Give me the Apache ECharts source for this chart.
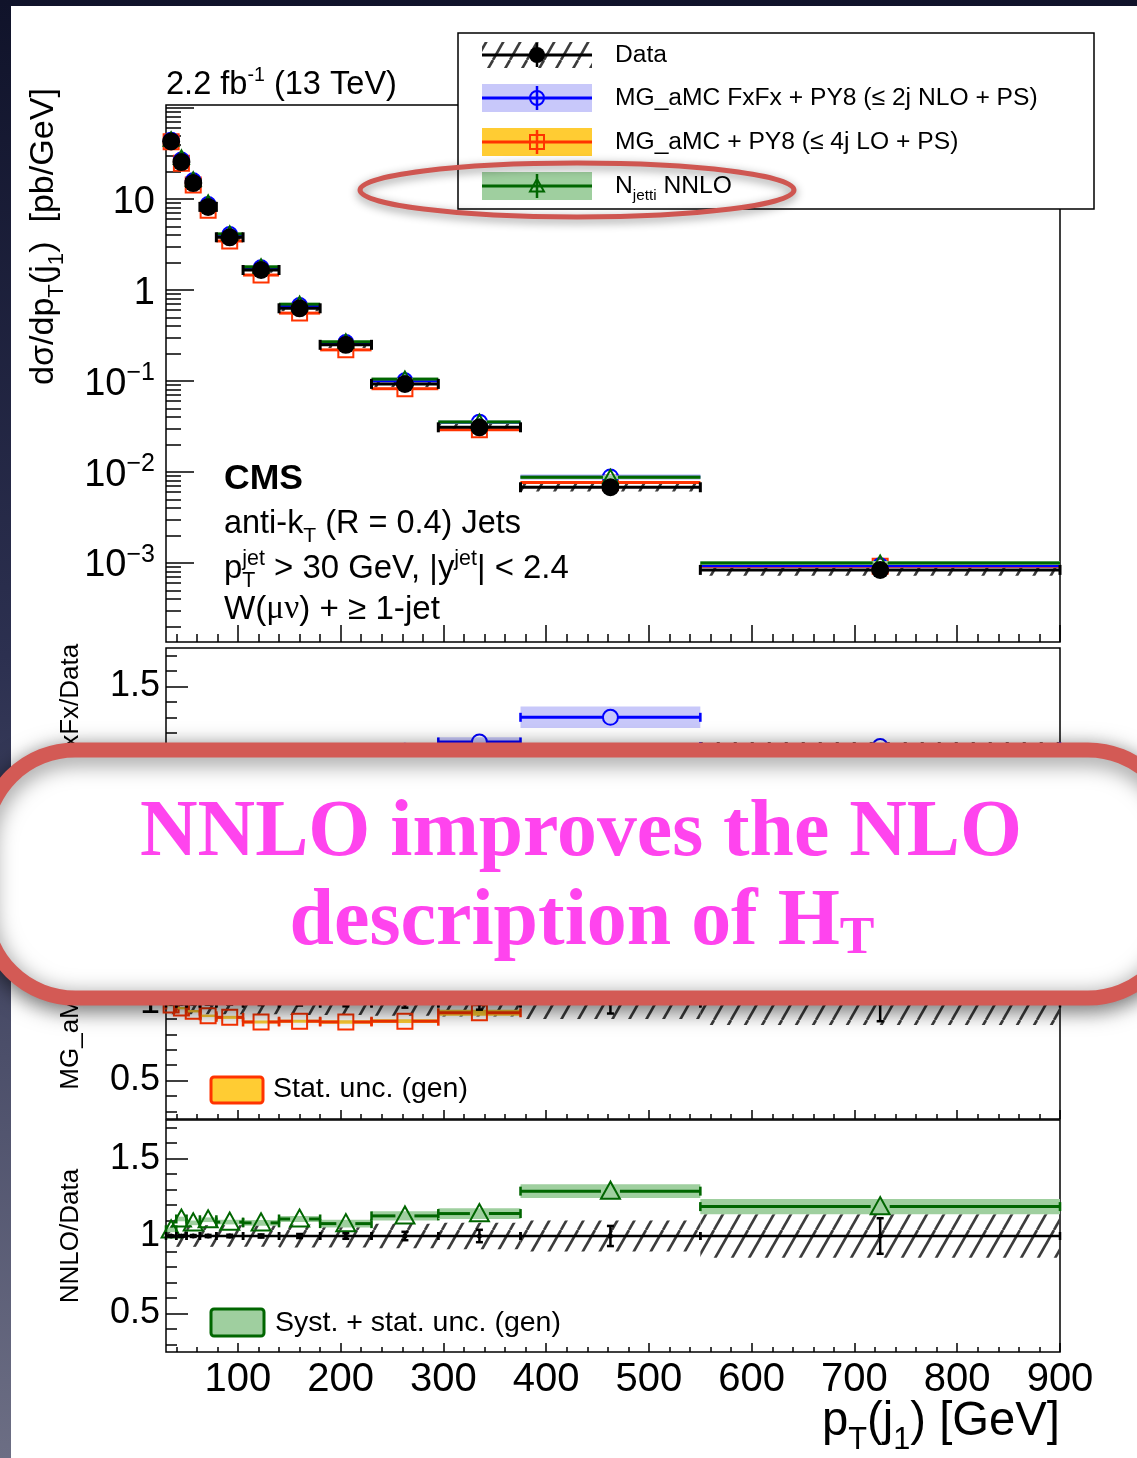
<!DOCTYPE html>
<html>
<head>
<meta charset="utf-8">
<title>W + jets: leading jet pT</title>
<script src="https://cdn.jsdelivr.net/npm/echarts@6/dist/echarts.min.js"></script>
<style>
  html, body { margin: 0; padding: 0; width: 1137px; height: 1458px; overflow: hidden; }
  body { position: relative; background: linear-gradient(180deg, #10132a 0%, #2c3050 45%, #6c6e84 100%); }
  #page { position: absolute; left: 11px; top: 6px; width: 1126px; height: 1452px; background: #fff; }
  #chart { position: absolute; left: 0; top: 0; width: 1137px; height: 1458px; }
</style>
</head>
<body>
<div id="page"></div>
<div id="chart"></div>
<script>
// ---------- measured distribution: W(mu nu) + >= 1 jet, leading-jet pT ----------
const binEdges    = [30, 40, 50, 63, 79, 105, 140, 180, 230, 295, 375, 550, 900];        // GeV
const dataXsec    = [43, 25.5, 15, 8.2, 3.8, 1.66, 0.63, 0.25, 0.093, 0.031, 0.0068, 0.00084]; // pb/GeV
const dataStatRel = [0.004, 0.005, 0.006, 0.007, 0.008, 0.010, 0.013, 0.018, 0.027, 0.040, 0.065, 0.115];
const dataSystRel = [0.07, 0.07, 0.07, 0.07, 0.07, 0.07, 0.075, 0.075, 0.08, 0.085, 0.10, 0.14];

// ---------- predictions, expressed as ratio to data ----------
const fxfxRatio = [1.03, 1.05, 1.06, 1.06, 1.07, 1.06, 1.07, 1.06, 1.08, 1.14, 1.30, 1.11];
const fxfxUnc   = [0.015, 0.015, 0.015, 0.015, 0.015, 0.02, 0.02, 0.02, 0.025, 0.03, 0.07, 0.015];
const loRatio   = [0.99, 0.97, 0.95, 0.92, 0.91, 0.88, 0.885, 0.88, 0.885, 0.94, 1.13, 1.10];
const loUnc     = [0.008, 0.008, 0.008, 0.008, 0.01, 0.01, 0.01, 0.012, 0.012, 0.02, 0.03, 0.04];
const nnloRatio = [1.04, 1.11, 1.085, 1.105, 1.09, 1.085, 1.11, 1.08, 1.13, 1.145, 1.29, 1.19];
const nnloUnc   = [0.015, 0.015, 0.015, 0.015, 0.015, 0.018, 0.02, 0.025, 0.03, 0.035, 0.045, 0.05];

// ---------- axis ticks ----------
const xMajorTicks     = [100, 200, 300, 400, 500, 600, 700, 800, 900];
const logMajorTicks   = [1e-3, 1e-2, 1e-1, 1, 10, 100];
const logLabelValues  = [1e-3, 1e-2, 1e-1, 1, 10];
const ratioMajorTicks = [0.5, 1, 1.5];
const ratioMinorTicks = [0.3, 0.4, 0.6, 0.7, 0.8, 0.9, 1.1, 1.2, 1.3, 1.4, 1.6, 1.7];

const xMinorTicks = [];
for (let v = 40; v < 900; v += 20) if (v % 100 !== 0) xMinorTicks.push(v);
const logMinorTicks = [];
for (let e = -4; e <= 1; e++) for (let k = 2; k <= 9; k++) logMinorTicks.push(k * Math.pow(10, e));

const SANS = '"Liberation Sans", Arial, Helvetica, sans-serif';
const SERIF = '"Liberation Serif", "Times New Roman", serif';

// ---------- hatch pattern for the data systematic band ----------
const hatchCanvas = (function () {
  const w = 17, h = 30;
  const c = document.createElement('canvas');
  c.width = w; c.height = h;
  const g = c.getContext('2d');
  g.strokeStyle = '#3c3c3c';
  g.lineWidth = 2.6;
  for (const dx of [-w, 0, w]) { g.beginPath(); g.moveTo(dx, h); g.lineTo(dx + w, 0); g.stroke(); }
  return c;
})();
const hatchFill = { image: hatchCanvas, repeat: 'repeat' };

// ---------- rows for the custom series ----------
function dataRows(absolute) {
  return dataXsec.map((d, i) => {
    const v = absolute ? d : 1;
    return [binEdges[i], binEdges[i + 1], v,
      v * (1 - dataSystRel[i]), v * (1 + dataSystRel[i]),
      v * (1 - dataStatRel[i]), v * (1 + dataStatRel[i])];
  });
}
function modelRows(ratio, unc, absolute) {
  return ratio.map((r, i) => {
    if (absolute) {
      const v = r * dataXsec[i];
      return [binEdges[i], binEdges[i + 1], v, v * (1 - unc[i]), v * (1 + unc[i])];
    }
    return [binEdges[i], binEdges[i + 1], r, r - unc[i], r + unc[i]];
  });
}

// ---------- drawing helpers ----------
function seg(x1, y1, x2, y2, color, w) {
  return { type: 'line', shape: { x1, y1, x2, y2 }, style: { stroke: color, lineWidth: w } };
}
function markerShape(kind, xc, yc, s, color, lw, fill) {
  const m = s / 2;
  const style = { fill: fill || 'none', stroke: color, lineWidth: lw };
  if (kind === 'circle') return { type: 'circle', shape: { cx: xc, cy: yc, r: m }, style };
  if (kind === 'square') return { type: 'rect', shape: { x: xc - m, y: yc - m, width: s, height: s }, style };
  return { type: 'polygon', shape: { points: [[xc, yc - m * 1.0], [xc - m, yc + m * 0.8], [xc + m, yc + m * 0.8]] }, style };
}

function dataBandItem(params, api) {
  const p1 = api.coord([api.value(0), api.value(4)]);
  const p2 = api.coord([api.value(1), api.value(3)]);
  return { type: 'rect', shape: { x: p1[0], y: p1[1], width: p2[0] - p1[0], height: p2[1] - p1[1] }, style: { fill: hatchFill } };
}
function makeDataPointItem(big) {
  return function (params, api) {
    const lo = api.value(0), hi = api.value(1), v = api.value(2);
    const a = api.coord([lo, v]), b = api.coord([hi, v]);
    const xc = (a[0] + b[0]) / 2, y = a[1];
    const lw = big ? 3 : 2.5, cap = big ? 5 : 4;
    const kids = [
      seg(a[0], y, b[0], y, '#000', lw),
      seg(a[0], y - cap, a[0], y + cap, '#000', lw),
      seg(b[0], y - cap, b[0], y + cap, '#000', lw)
    ];
    if (big) {
      kids.push({ type: 'circle', shape: { cx: xc, cy: y, r: 9 }, style: { fill: '#000' } });
    } else {
      const s1 = api.coord([lo, api.value(5)])[1], s2 = api.coord([lo, api.value(6)])[1];
      kids.push(seg(xc, s1, xc, s2, '#000', 2.5));
      kids.push(seg(xc - 3.5, s1, xc + 3.5, s1, '#000', 2.5));
      kids.push(seg(xc - 3.5, s2, xc + 3.5, s2, '#000', 2.5));
      kids.push({ type: 'circle', shape: { cx: xc, cy: y, r: 2.5 }, style: { fill: '#000' } });
    }
    return { type: 'group', children: kids };
  };
}
function makeModelItem(st) {
  return function (params, api) {
    const lo = api.value(0), hi = api.value(1), v = api.value(2);
    const a = api.coord([lo, v]), b = api.coord([hi, v]);
    const t = api.coord([lo, api.value(4)]), u = api.coord([hi, api.value(3)]);
    const xc = (a[0] + b[0]) / 2, y = a[1], m = st.size / 2;
    const kids = [{ type: 'rect', shape: { x: a[0], y: t[1], width: b[0] - a[0], height: Math.max(u[1] - t[1], 0) }, style: { fill: st.band } }];
    if (xc - m > a[0]) kids.push(seg(a[0], y, xc - m, y, st.color, st.lw));
    if (b[0] > xc + m) kids.push(seg(xc + m, y, b[0], y, st.color, st.lw));
    if (st.cap) {
      kids.push(seg(a[0], y - st.cap, a[0], y + st.cap, st.color, st.lw * 0.85));
      kids.push(seg(b[0], y - st.cap, b[0], y + st.cap, st.color, st.lw * 0.85));
    }
    kids.push(markerShape(st.marker, xc, y, st.size, st.color, st.mlw));
    return { type: 'group', children: kids };
  };
}

// ---------- text with sub/superscripts ----------
const mctx = document.createElement('canvas').getContext('2d');
function layoutParts(parts, S, o) {
  const kids = []; let x = 0;
  const r = o.scriptScale || 0.65;
  const subDy = (o.subShift != null ? o.subShift : 0.27) * S;
  const supDy = -(o.supShift != null ? o.supShift : 0.42) * S;
  const fam0 = o.family || SANS, wt = o.weight || 'normal', col = o.color || '#000';
  function put(t, size, dy, fam) {
    const font = wt + ' ' + size.toFixed(2) + 'px ' + fam;
    kids.push({ type: 'text', x: x, y: dy - 0.345 * size, z: o.z || 60, silent: true,
      style: { text: t, font: font, fill: col, align: 'left', verticalAlign: 'middle', textAlign: 'left', textVerticalAlign: 'middle' } });
    mctx.font = font;
    return mctx.measureText(t).width;
  }
  for (const p of parts) {
    if (typeof p === 'string') { x += put(p, S, 0, fam0); continue; }
    if (p.t) { x += put(p.t, S, 0, p.fam || fam0); continue; }
    let w = 0;
    if (p.sub) w = Math.max(w, put(p.sub, S * r, subDy, fam0));
    if (p.sup) w = Math.max(w, put(p.sup, S * r, supDy, fam0));
    x += w;
  }
  return { kids, width: x };
}
function sText(parts, o) {
  let S = o.size || 30;
  let L = layoutParts(parts, S, o);
  if (o.width) { S = S * o.width / L.width; L = layoutParts(parts, S, o); }
  const off = o.align === 'right' ? -L.width : o.align === 'center' ? -L.width / 2 : 0;
  L.kids.forEach(k => { k.x += off; });
  return { type: 'group', x: o.x, y: o.y, rotation: o.rotation || 0, z: o.z || 60, children: L.kids };
}

// ---------- panels ----------
const grids = [
  { left: 166, top: 105, width: 894, height: 537 },
  { left: 166, top: 648, width: 894, height: 231 },
  { left: 166, top: 888, width: 894, height: 231 },
  { left: 166, top: 1120, width: 894, height: 232 }
].map(g => Object.assign(g, { show: true, borderColor: '#000', borderWidth: 1.5, backgroundColor: 'transparent' }));

const tickLine = { color: '#000', width: 1.5 };
const xAxes = [], yAxes = [];
grids.forEach((g, i) => {
  const top = i === 0;
  xAxes.push({
    type: 'value', gridIndex: i, min: 30, max: 900, position: 'bottom',
    axisLine: { show: false }, splitLine: { show: false },
    axisTick: { show: true, inside: true, length: top ? 17 : 9, customValues: xMajorTicks, lineStyle: tickLine },
    axisLabel: { show: i === 3, customValues: xMajorTicks, margin: 8, fontSize: 40, fontFamily: SANS, color: '#000' }
  });
  xAxes.push({
    type: 'value', gridIndex: i, min: 30, max: 900, position: 'bottom',
    axisLine: { show: false }, splitLine: { show: false },
    axisTick: { show: true, inside: true, length: top ? 8 : 5, customValues: xMinorTicks, lineStyle: tickLine },
    axisLabel: { show: false }
  });
  if (top) {
    yAxes.push({
      type: 'log', logBase: 10, gridIndex: 0, min: 1.355e-4, max: 108, position: 'left',
      axisLine: { show: false }, splitLine: { show: false },
      axisTick: { show: true, inside: true, length: 28, customValues: logMajorTicks, lineStyle: tickLine },
      axisLabel: {
        customValues: logLabelValues, margin: 11, fontSize: 38, fontFamily: SANS, color: '#000',
        padding: [6, 0, 0, 0],
        formatter: function (v) {
          const e = Math.round(Math.log10(v));
          if (e === 0) return '1';
          if (e === 1) return '10';
          return '{b|10}{s|\u2212' + (-e) + '}';
        },
        rich: {
          b: { fontSize: 38, lineHeight: 46, fontFamily: SANS, color: '#000' },
          s: { fontSize: 25, lineHeight: 25, verticalAlign: 'top', fontFamily: SANS, color: '#000' }
        }
      }
    });
    yAxes.push({
      type: 'log', logBase: 10, gridIndex: 0, min: 1.355e-4, max: 108, position: 'left',
      axisLine: { show: false }, splitLine: { show: false },
      axisTick: { show: true, inside: true, length: 15, customValues: logMinorTicks, lineStyle: tickLine },
      axisLabel: { show: false }
    });
  } else {
    yAxes.push({
      type: 'value', gridIndex: i, min: 0.25, max: 1.75, position: 'left',
      axisLine: { show: false }, splitLine: { show: false },
      axisTick: { show: true, inside: true, length: 22, customValues: ratioMajorTicks, lineStyle: tickLine },
      axisLabel: { customValues: ratioMajorTicks, margin: 6, fontSize: 36, fontFamily: SANS, color: '#000',
        padding: [6, 0, 0, 0],
        formatter: v => (Math.abs(v - 1) < 1e-9 ? '1' : v.toFixed(1)) }
    });
    yAxes.push({
      type: 'value', gridIndex: i, min: 0.25, max: 1.75, position: 'left',
      axisLine: { show: false }, splitLine: { show: false },
      axisTick: { show: true, inside: true, length: 11, customValues: ratioMinorTicks, lineStyle: tickLine },
      axisLabel: { show: false }
    });
  }
});

// ---------- prediction styles ----------
const styles = {
  fxfx: { color: '#0000ff', band: '#c8c8fa', marker: 'circle' },
  lo:   { color: '#ff3300', band: '#ffcc33', marker: 'square' },
  nnlo: { color: '#006600', band: '#9fcf9f', marker: 'triangle' }
};
function topStyle(s) { return Object.assign({}, s, { size: 15, lw: 3, mlw: 2, cap: 0 }); }
function ratioStyle(s, size) { return Object.assign({}, s, { size: size, lw: 3, mlw: 2, cap: 4.5 }); }

function custom(name, g, data, renderItem, z) {
  return { type: 'custom', name, xAxisIndex: 2 * g, yAxisIndex: 2 * g, data, renderItem,
    encode: { x: [0, 1], y: [2, 3, 4] }, z: z, silent: true, clip: false };
}

const series = [
  // main panel
  custom('Data syst', 0, dataRows(true), dataBandItem, 2),
  custom('MG_aMC + PY8', 0, modelRows(loRatio, loUnc, true), makeModelItem(topStyle(styles.lo)), 3),
  custom('MG_aMC FxFx + PY8', 0, modelRows(fxfxRatio, fxfxUnc, true), makeModelItem(topStyle(styles.fxfx)), 3),
  custom('Njetti NNLO', 0, modelRows(nnloRatio, nnloUnc, true), makeModelItem(topStyle(styles.nnlo)), 3),
  custom('Data', 0, dataRows(true), makeDataPointItem(true), 4),
  // FxFx / data
  custom('Data syst r1', 1, dataRows(false), dataBandItem, 2),
  custom('FxFx ratio', 1, modelRows(fxfxRatio, fxfxUnc, false), makeModelItem(ratioStyle(styles.fxfx, 15)), 3),
  custom('Data r1', 1, dataRows(false), makeDataPointItem(false), 4),
  // LO / data
  custom('Data syst r2', 2, dataRows(false), dataBandItem, 2),
  custom('LO ratio', 2, modelRows(loRatio, loUnc, false), makeModelItem(ratioStyle(styles.lo, 15)), 3),
  custom('Data r2', 2, dataRows(false), makeDataPointItem(false), 4),
  // NNLO / data
  custom('Data syst r3', 3, dataRows(false), dataBandItem, 2),
  custom('NNLO ratio', 3, modelRows(nnloRatio, nnloUnc, false), makeModelItem(ratioStyle(styles.nnlo, 19)), 3),
  custom('Data r3', 3, dataRows(false), makeDataPointItem(false), 4)
];

// ---------- legend, labels, annotations ----------
const G = [];
// legend box
G.push({ type: 'rect', z: 100, shape: { x: 458, y: 33, width: 636, height: 176 }, style: { fill: '#fff', stroke: '#000', lineWidth: 1.5 } });
const legX0 = 482, legX1 = 592, legXc = 537;
// Data entry
G.push({ type: 'rect', z: 101, shape: { x: legX0, y: 42, width: legX1 - legX0, height: 26 }, style: { fill: hatchFill } });
G.push(Object.assign(seg(legX0, 55, legX1, 55, '#000', 3), { z: 102 }));
G.push(Object.assign(seg(legXc, 43, legXc, 67, '#000', 2.5), { z: 102 }));
G.push({ type: 'circle', z: 103, shape: { cx: legXc, cy: 55, r: 8 }, style: { fill: '#000' } });
// prediction entries
[[98, styles.fxfx], [142, styles.lo], [186, styles.nnlo]].forEach(([cy, st]) => {
  G.push({ type: 'rect', z: 101, shape: { x: legX0, y: cy - 14, width: legX1 - legX0, height: 28 }, style: { fill: st.band } });
  G.push(Object.assign(seg(legX0, cy, legX1, cy, st.color, 3), { z: 102 }));
  G.push(Object.assign(seg(legXc, cy - 12, legXc, cy + 12, st.color, 2.5), { z: 102 }));
  G.push(Object.assign(markerShape(st.marker, legXc, cy, 14, st.color, 2), { z: 103 }));
});
const legFont = { size: 24, z: 104 };
G.push(sText(['MG_aMC FxFx + PY8 (\u2264 2j NLO + PS)'], Object.assign({ x: 615, y: 106.5, width: 423 }, legFont)));
const legSize = G[G.length - 1].children[0].style.font.match(/([\d.]+)px/)[1] * 1;
G.push(sText(['Data'], { x: 615, y: 63.5, size: legSize, z: 104 }));
G.push(sText(['MG_aMC + PY8 (\u2264 4j LO + PS)'], { x: 615, y: 150.5, size: legSize, z: 104 }));
G.push(sText(['N', { sub: 'jetti' }, ' NNLO'], { x: 615, y: 194.5, size: legSize, z: 104, scriptScale: 0.62 }));

// header and plot annotations
G.push(sText(['2.2 fb', { sup: '-1' }, ' (13 TeV)'], { x: 166, y: 96, width: 231, scriptScale: 0.6 }));
G.push(sText(['CMS'], { x: 224, y: 491, width: 79, weight: 'bold' }));
G.push(sText(['anti-k', { sub: 'T' }, ' (R = 0.4) Jets'], { x: 224, y: 535, width: 297 }));
G.push(sText(['p', { sub: 'T', sup: 'jet' }, ' > 30 GeV, |y', { sup: 'jet' }, '| < 2.4'], { x: 224, y: 580, width: 345 }));
G.push(sText(['W(', { t: '\u03bc\u03bd', fam: SERIF }, ') + \u2265 1-jet'], { x: 224, y: 621, width: 216 }));

// axis titles
G.push(sText(['d\u03c3/dp', { sub: 'T' }, '(j', { sub: '1' }, ')  [pb/GeV]'], { x: 55, y: 385, width: 297, rotation: Math.PI / 2 }));
G.push(sText(['MG_aMC FxFx/Data'], { x: 80, y: 763, size: 26, align: 'center', rotation: Math.PI / 2 }));
G.push(sText(['MG_aMC/Data'], { x: 80, y: 1003, size: 26, align: 'center', rotation: Math.PI / 2 }));
G.push(sText(['NNLO/Data'], { x: 80, y: 1236, size: 26, align: 'center', rotation: Math.PI / 2 }));
G.push(sText(['p', { sub: 'T' }, '(j', { sub: '1' }, ') [GeV]'], { x: 1060, y: 1438, width: 238, align: 'right' }));

// uncertainty keys inside the ratio panels
G.push({ type: 'rect', z: 60, shape: { x: 211, y: 1077, width: 52, height: 26, r: 3 }, style: { fill: '#ffcc33', stroke: '#ff3300', lineWidth: 3 } });
G.push(sText(['Stat. unc. (gen)'], { x: 273, y: 1099, width: 195 }));
G.push({ type: 'rect', z: 60, shape: { x: 211, y: 1309, width: 53, height: 27, r: 3 }, style: { fill: '#9fcf9f', stroke: '#006600', lineWidth: 3 } });
G.push(sText(['Syst. + stat. unc. (gen)'], { x: 275, y: 1333, width: 286 }));

// highlight around the NNLO legend entry
G.push({ type: 'ellipse', z: 150, shape: { cx: 577, cy: 190, rx: 217, ry: 27 },
  style: { fill: 'none', stroke: '#cf5651', lineWidth: 5, shadowBlur: 10, shadowColor: 'rgba(0,0,0,0.45)', shadowOffsetY: 3 } });

// call-out box
G.push({ type: 'rect', z: 200, shape: { x: -15, y: 750, width: 1193, height: 248, r: 90 },
  style: { fill: '#fff', stroke: '#d35a55', lineWidth: 15, shadowBlur: 22, shadowColor: 'rgba(0,0,0,0.5)', shadowOffsetY: 5 } });
G.push(sText(['NNLO improves the NLO'], { x: 581, y: 862, width: 882, align: 'center', family: SERIF, weight: 'bold', color: '#ff44ee', z: 210 }));
G.push(sText(['description of H', { sub: 'T' }], { x: 582, y: 951, width: 585, align: 'center', family: SERIF, weight: 'bold', color: '#ff44ee', z: 210, scriptScale: 0.65, subShift: 0.08 }));

const chart = echarts.init(document.getElementById('chart'), null, { renderer: 'canvas', width: 1137, height: 1458 });
chart.setOption({
  backgroundColor: 'transparent',
  animation: false,
  grid: grids,
  xAxis: xAxes,
  yAxis: yAxes,
  series: series,
  graphic: { elements: G }
});
</script>
</body>
</html>
